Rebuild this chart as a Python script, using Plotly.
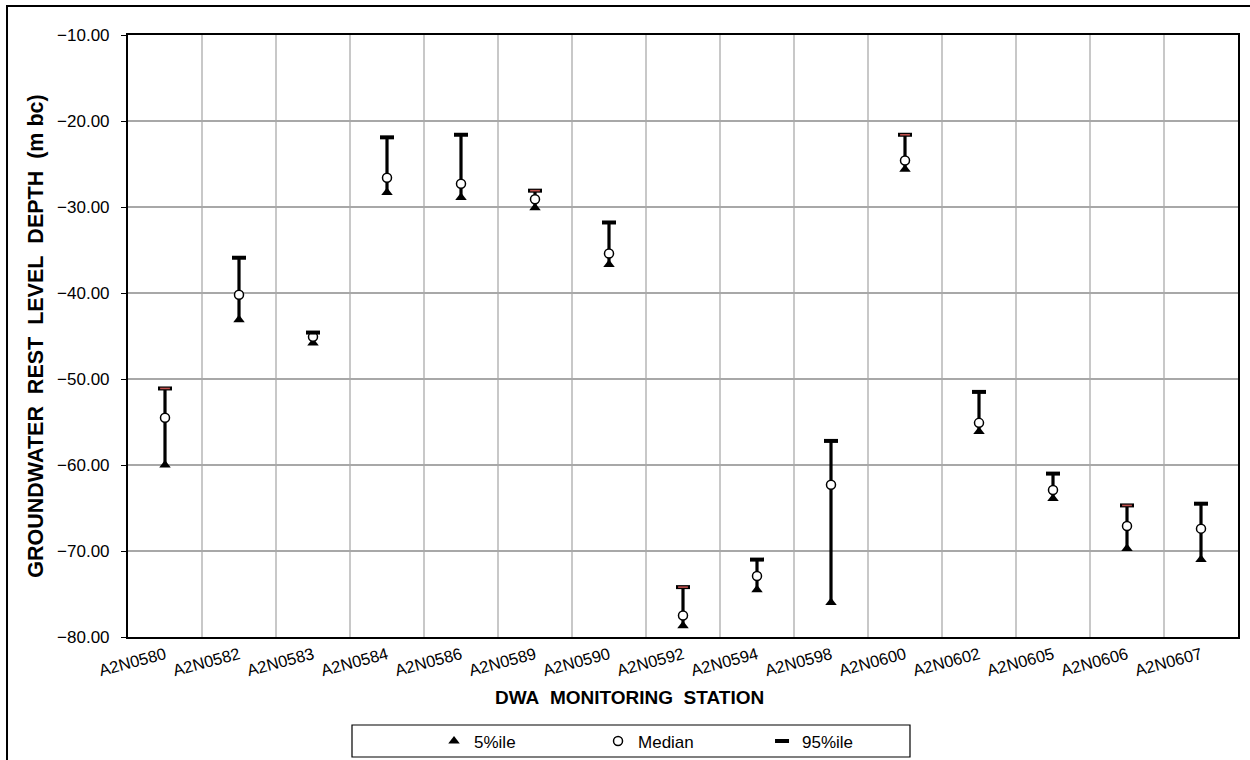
import plotly.graph_objects as go

# Groundwater rest level depth statistics per DWA monitoring station (m bc)
stations = ['A2N0580', 'A2N0582', 'A2N0583', 'A2N0584', 'A2N0586', 'A2N0589',
            'A2N0590', 'A2N0592', 'A2N0594', 'A2N0598', 'A2N0600', 'A2N0602',
            'A2N0605', 'A2N0606', 'A2N0607']
p5 = [-60.0, -43.1, -45.8, -28.3, -28.9, -30.1, -36.7, -78.7, -74.5, -76.0,
      -25.6, -56.1, -63.9, -69.7, -71.0]
median = [-54.5, -40.2, -45.1, -26.6, -27.3, -29.1, -35.4, -77.5, -72.9, -62.3,
          -24.6, -55.1, -62.9, -67.1, -67.4]
p95 = [-51.1, -35.9, -44.6, -21.9, -21.6, -28.1, -31.8, -74.2, -71.0, -57.2,
       -21.6, -51.5, -61.0, -64.7, -64.5]

# stations whose 95%ile marker is drawn with a red core
red_cap_stations = ['A2N0580', 'A2N0589', 'A2N0592', 'A2N0600', 'A2N0606']

FONT = 'Liberation Sans, Arial, sans-serif'
NB = '\u00a0'

fig = go.Figure()

# vertical range bar from 5%ile up to 95%ile
fig.add_trace(go.Scatter(
    x=stations, y=p5, mode='markers',
    marker=dict(size=1, color='rgba(0,0,0,0)'),
    error_y=dict(type='data', symmetric=False,
                 array=[b - a for a, b in zip(p5, p95)],
                 arrayminus=[0] * len(p5),
                 color='black', thickness=3.2, width=0),
    showlegend=False, hoverinfo='skip'))

fig.add_trace(go.Scatter(
    x=stations, y=p5, mode='markers', name='5%ile',
    marker=dict(symbol='triangle-up', size=10, color='black',
                line=dict(width=0))))

fig.add_trace(go.Scatter(
    x=stations, y=median, mode='markers', name='Median',
    marker=dict(symbol='circle', size=9, color='white',
                line=dict(color='black', width=1.5))))

fig.add_trace(go.Scatter(
    x=stations, y=p95, mode='markers', name='95%ile',
    marker=dict(symbol='line-ew', size=10,
                line=dict(color='black', width=4))))

red_x = [s for s in stations if s in red_cap_stations]
red_y = [v for s, v in zip(stations, p95) if s in red_cap_stations]
fig.add_trace(go.Scatter(
    x=red_x, y=red_y, mode='markers', showlegend=False, hoverinfo='skip',
    marker=dict(symbol='line-ew', size=7,
                line=dict(color='#c0504d', width=1.6))))

fig.update_layout(
    width=1250, height=760,
    margin=dict(l=128, r=12, t=35, b=123, autoexpand=False),
    paper_bgcolor='white', plot_bgcolor='white',
    font=dict(family=FONT, color='black', size=16),
    showlegend=True,
    legend=dict(orientation='h', xanchor='left', x=0.2757,
                yanchor='top', y=-0.1435,
                borderwidth=0, bgcolor='rgba(0,0,0,0)',
                entrywidth=119, entrywidthmode='pixels',
                font=dict(family=FONT, size=17)),
    shapes=[
        # outer chart frame
        dict(type='rect', xref='paper', yref='paper',
             x0=-0.109, x1=1.012, y0=-0.21, y1=1.048,
             line=dict(color='black', width=2), layer='below'),
        # legend frame
        dict(type='rect', xref='paper', yref='paper',
             x0=0.2018, x1=0.7045, y0=-0.1993, y1=-0.1462,
             line=dict(color='black', width=1.2), layer='below'),
    ],
    annotations=[
        dict(text=f'<b>DWA{NB}{NB}MONITORING{NB}{NB}STATION</b>',
             xref='paper', yref='paper', x=0.452, y=-0.0997,
             xanchor='center', yanchor='middle', showarrow=False,
             font=dict(family=FONT, size=19)),
    ],
)

fig.update_xaxes(
    type='category', categoryorder='array', categoryarray=stations,
    range=[-0.5, len(stations) - 0.5],
    tickson='boundaries', tickangle=-15,
    showgrid=True, gridcolor='#c8c8c8', gridwidth=1.5,
    showline=True, linecolor='black', linewidth=2, mirror=True,
    ticks='', tickfont=dict(family=FONT, size=16.5))

ytitle = NB.join(['GROUNDWATER', '', 'REST', '', 'LEVEL', '', 'DEPTH', '', '(m', 'bc)'])
fig.update_yaxes(
    range=[-80, -10], dtick=10, tickformat='.2f',
    showgrid=True, gridcolor='#a8a8a8', gridwidth=1.5,
    showline=True, linecolor='black', linewidth=2, mirror=True,
    ticks='outside', ticklen=5, tickcolor='black',
    ticklabelstandoff=8,
    tickfont=dict(family=FONT, size=17), zeroline=False,
    title=dict(text=f'<b>{ytitle}</b>',
               font=dict(family=FONT, size=21.5), standoff=8))

fig.write_html('out.html')
